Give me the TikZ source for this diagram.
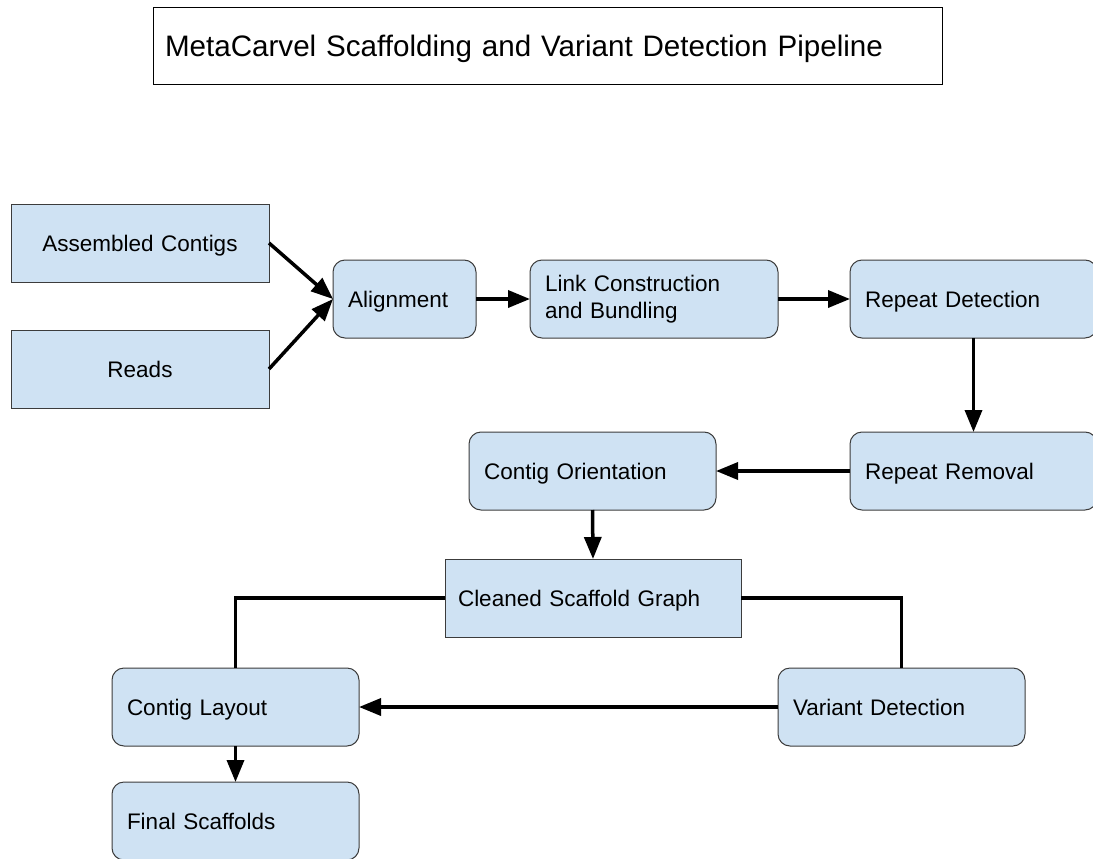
\documentclass[tikz,border=0pt]{standalone}
\usepackage{fontspec}
\setmainfont{Liberation Sans}
\usetikzlibrary{arrows.meta}
\definecolor{boxblue}{HTML}{CFE2F3}
\definecolor{boxedge}{HTML}{3C3C3C}
\begin{document}
\begin{tikzpicture}[x=1bp,y=-1bp,
  basebox/.style={draw=boxedge, line width=1bp, fill=boxblue, anchor=north west,
    minimum height=78bp, inner xsep=15bp, inner ysep=0bp, outer sep=0bp,
    font=\fontsize{22.5bp}{27bp}\selectfont, align=left},
  oneline/.style={text height=16.5bp, text depth=0bp},
  sqbox/.style={basebox, oneline},
  rbox/.style={basebox, oneline, rounded corners=12bp, text width=217bp},
  twoline/.style={basebox, rounded corners=12bp},
  titlebox/.style={draw=black, line width=1bp, anchor=north west, minimum height=77bp,
    text width=765bp, inner xsep=12bp, align=left, outer sep=0bp,
    text height=21.5bp, text depth=0bp,
    font=\fontsize{29.6bp}{36bp}\selectfont},
  arr/.style={line width=3.5bp, -{Triangle[length=22bp,width=17bp]}},
  link/.style={line width=3.5bp}]
\useasboundingbox (0,0) rectangle (1093,859);

\node[titlebox] (title) at (153,7) {MetaCarvel Scaffolding and Variant Detection Pipeline};

\node[sqbox, text width=228bp, align=center] (ac) at (11,204) {Assembled Contigs};
\node[sqbox, text width=228bp, align=center] (rd) at (11,330) {Reads};
\node[rbox, text width=113bp] (al) at (333,260) {Alignment};
\node[twoline, text width=218bp] (lc) at (530,260) {Link Construction\\and Bundling};
\node[rbox] (rdet) at (850,260) {Repeat Detection};
\node[rbox] (rrem) at (850,432) {Repeat Removal};
\node[rbox] (co) at (469,432) {Contig Orientation};
\node[sqbox, text width=270bp, inner xsep=13bp] (csg) at (445,559) {Cleaned Scaffold Graph};
\node[rbox] (cl) at (112,668) {Contig Layout};
\node[rbox] (vd) at (778,668) {Variant Detection};
\node[rbox] (fs) at (112,782) {Final Scaffolds};

\draw[arr] (ac.east) -- (al.west);
\draw[arr] (rd.east) -- (al.west);
\draw[arr] (al.east) -- (lc.west);
\draw[arr] (lc.east) -- (rdet.west);
\draw[arr] (rdet.south) -- (rrem.north);
\draw[arr] (rrem.west) -- (co.east);
\draw[arr] (co.south) -- (csg.north);
\draw[link] (csg.west) -| (cl.north);
\draw[link] (csg.east) -| (vd.north);
\draw[arr] (vd.west) -- (cl.east);
\draw[arr] (cl.south) -- (fs.north);
\end{tikzpicture}
\end{document}
